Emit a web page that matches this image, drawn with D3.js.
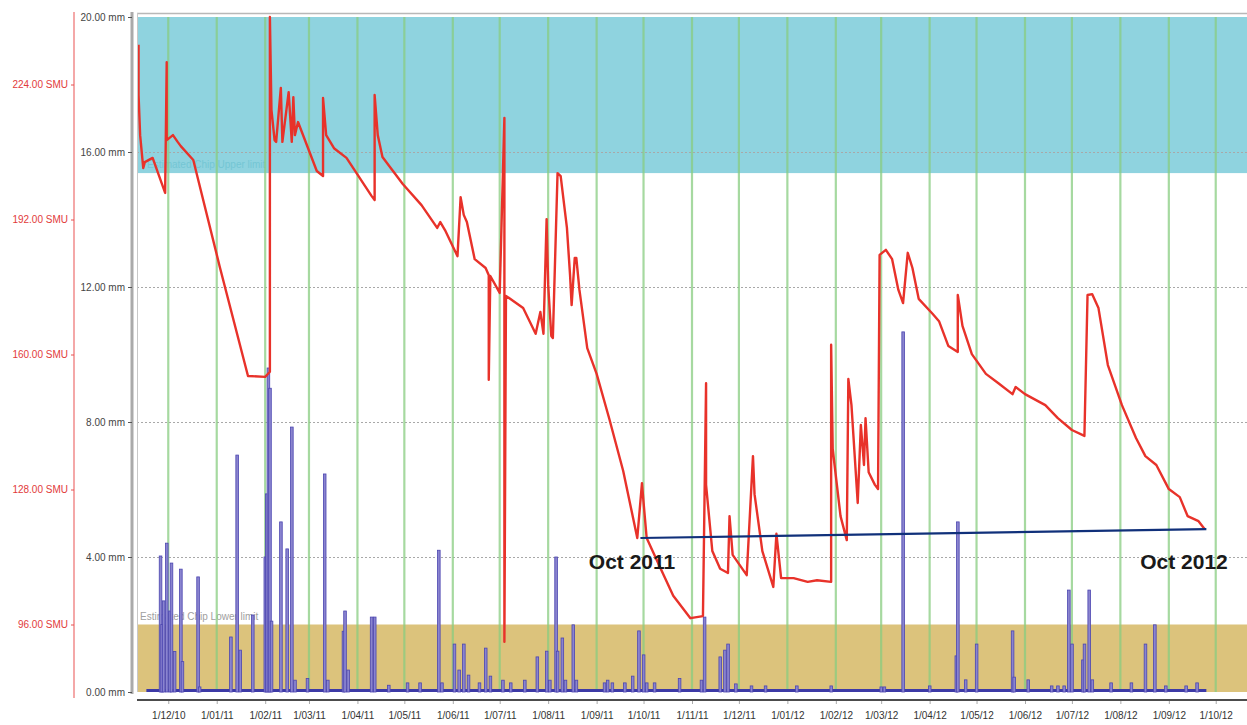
<!DOCTYPE html>
<html><head><meta charset="utf-8">
<script src="https://cdn.jsdelivr.net/npm/d3@7/dist/d3.min.js"></script>
<style>body{margin:0;background:#fff}svg{display:block}text{font-family:"Liberation Sans",Arial,sans-serif}</style>
</head><body><svg id="c" width="1247" height="725"></svg>
<script>
// ---- data ----
const mmTicks = [0, 4, 8, 12, 16, 20];
const smuTicks = [96, 128, 160, 192, 224];
const monthTicks = ["2010-12-01","2011-01-01","2011-02-01","2011-03-01","2011-04-01","2011-05-01","2011-06-01","2011-07-01","2011-08-01","2011-09-01","2011-10-01","2011-11-01","2011-12-01","2012-01-01","2012-02-01","2012-03-01","2012-04-01","2012-05-01","2012-06-01","2012-07-01","2012-08-01","2012-09-01","2012-10-01"];
const upperLimitSMU = 203;   // Estimated Chip Upper limit
const lowerLimitSMU = 96;    // Estimated Chip Lower limit
const smuDates = ["2010-11-12","2010-11-12","2010-11-13","2010-11-15","2010-11-16","2010-11-21","2010-11-29","2010-11-30","2010-11-30","2010-12-04","2010-12-07","2010-12-09","2010-12-17","2011-01-03","2011-01-21","2011-02-01","2011-02-04","2011-02-04","2011-02-05","2011-02-07","2011-02-08","2011-02-11","2011-02-12","2011-02-16","2011-02-18","2011-02-19","2011-02-20","2011-02-22","2011-03-06","2011-03-10","2011-03-10","2011-03-12","2011-03-17","2011-03-25","2011-04-10","2011-04-12","2011-04-12","2011-04-14","2011-04-17","2011-04-30","2011-05-12","2011-05-22","2011-05-24","2011-05-27","2011-06-04","2011-06-06","2011-06-08","2011-06-10","2011-06-15","2011-06-22","2011-06-24","2011-06-24","2011-06-25","2011-07-01","2011-07-04","2011-07-04","2011-07-05","2011-07-16","2011-07-24","2011-07-27","2011-07-29","2011-07-31","2011-08-01","2011-08-03","2011-08-04","2011-08-07","2011-08-09","2011-08-13","2011-08-15","2011-08-16","2011-08-18","2011-08-19","2011-08-21","2011-08-26","2011-09-01","2011-09-09","2011-09-18","2011-09-27","2011-09-30","2011-10-01","2011-10-03","2011-10-12","2011-10-20","2011-10-31","2011-11-08","2011-11-10","2011-11-10","2011-11-14","2011-11-19","2011-11-24","2011-11-25","2011-11-27","2011-12-06","2011-12-10","2011-12-11","2011-12-16","2011-12-23","2011-12-25","2011-12-28","2012-01-05","2012-01-14","2012-01-20","2012-01-29","2012-01-29","2012-01-30","2012-02-04","2012-02-08","2012-02-09","2012-02-11","2012-02-15","2012-02-17","2012-02-19","2012-02-20","2012-02-22","2012-02-26","2012-02-28","2012-02-29","2012-03-04","2012-03-08","2012-03-12","2012-03-15","2012-03-18","2012-03-21","2012-03-25","2012-04-03","2012-04-07","2012-04-13","2012-04-19","2012-04-19","2012-04-22","2012-04-28","2012-05-07","2012-05-15","2012-05-24","2012-05-26","2012-06-01","2012-06-14","2012-06-22","2012-07-01","2012-07-09","2012-07-11","2012-07-14","2012-07-18","2012-07-24","2012-08-02","2012-08-11","2012-08-17","2012-08-24","2012-09-01","2012-09-08","2012-09-13","2012-09-20","2012-09-24"];
const smuValues = [233.4,221.5,212.0,204.2,205.6,206.6,198.3,229.3,210.8,212.0,210.4,209.4,206.1,180.7,154.9,154.7,155.9,240,218.0,210.8,210.4,223.2,210.4,222.2,210.4,221.0,212.0,215.1,203.5,202.3,220.8,212.0,208.9,206.6,197.6,196.6,221.5,212.0,206.8,200.4,195.4,190.0,191.4,189.5,183.3,197.3,193.1,191.4,182.6,180.5,178.8,154.0,178.6,174.6,216.1,91.9,173.9,171.0,164.9,170.1,164.9,192.1,176.5,164.4,163.9,203.0,202.3,190.0,178.8,171.7,182.9,182.9,175.3,161.5,155.4,144.9,132.4,116.5,129.5,125.0,116.5,109.2,102.8,97.5,98.0,153.2,129.1,113.4,109.2,108.2,121.7,112.5,107.7,135.9,126.9,113.4,104.9,117.5,107.0,107.0,106.1,106.5,106.1,162.3,137.6,121.7,116.0,154.2,148.0,124.8,143.3,133.8,144.9,132.1,129.1,128.1,183.6,184.8,182.6,175.3,172.2,184.1,180.5,173.2,169.6,167.9,162.0,160.6,174.1,166.8,160.1,155.4,153.2,150.6,152.3,150.6,148.0,144.9,142.1,140.7,174.1,174.3,171.0,157.5,148.0,140.2,135.9,133.8,128.1,126.2,121.7,120.5,118.6];
const rainDates = ["2010-11-26","2010-11-27","2010-11-28","2010-11-30","2010-12-02","2010-12-03","2010-12-05","2010-12-09","2010-12-10","2010-12-20","2010-12-21","2011-01-10","2011-01-14","2011-01-16","2011-01-24","2011-02-01","2011-02-02","2011-02-03","2011-02-04","2011-02-05","2011-02-11","2011-02-15","2011-02-18","2011-02-20","2011-02-28","2011-03-11","2011-03-13","2011-03-23","2011-03-24","2011-03-26","2011-04-10","2011-04-12","2011-04-21","2011-05-03","2011-05-11","2011-05-23","2011-05-25","2011-06-02","2011-06-05","2011-06-08","2011-06-11","2011-06-18","2011-06-22","2011-06-25","2011-07-03","2011-07-08","2011-07-17","2011-07-25","2011-07-31","2011-08-02","2011-08-06","2011-08-07","2011-08-10","2011-08-12","2011-08-17","2011-08-19","2011-09-06","2011-09-08","2011-09-11","2011-09-19","2011-09-24","2011-09-28","2011-10-01","2011-10-03","2011-10-08","2011-10-24","2011-11-07","2011-11-09","2011-11-19","2011-11-22","2011-11-24","2011-11-29","2011-12-09","2011-12-18","2012-01-07","2012-01-29","2012-03-01","2012-03-03","2012-03-15","2012-04-01","2012-04-18","2012-04-19","2012-04-24","2012-05-01","2012-05-24","2012-05-25","2012-06-03","2012-06-18","2012-06-22","2012-06-26","2012-06-29","2012-07-01","2012-07-08","2012-07-09","2012-07-12","2012-07-14","2012-07-26","2012-08-08","2012-08-17","2012-08-23","2012-08-30","2012-09-12","2012-09-19"];
const rainValues = [4.03,2.0,2.7,4.41,2.4,3.82,1.2,3.64,0.9,3.41,0.15,1.63,7.02,1.24,2.28,4.0,5.87,9.6,9.0,2.1,5.04,4.24,7.85,0.35,0.4,6.46,0.35,1.8,2.4,0.65,2.22,2.22,0.2,0.27,0.27,4.2,0.27,1.42,0.65,1.42,0.5,0.27,1.3,0.47,0.35,0.27,0.35,1.04,1.21,0.35,4.0,1.21,1.6,0.35,1.99,0.35,0.27,0.35,0.27,0.27,0.47,1.81,1.1,0.27,0.27,0.4,0.35,2.22,1.04,1.24,1.42,0.24,0.18,0.18,0.18,0.18,0.15,0.15,10.67,0.18,1.07,5.04,0.36,1.42,1.81,0.44,0.36,0.18,0.18,0.18,3.02,1.42,0.95,1.42,3.02,0.36,0.27,0.27,1.42,1.99,0.18,0.18,0.27];
const rainPeriod = ["2010-11-17", "2012-09-25"];
const annotationDates = ["2011-09-29", "2012-09-25"];
const annotationValues = [116.5, 118.6];
const annotationLabels = ["Oct 2011", "Oct 2012"];

// ---- chart ----
const P = d3.timeParse("%Y-%m-%d");
const svg = d3.select("#c");
const L = 137, R = 1247, T = 17, B = 692;
const x = d3.scaleTime().domain([P("2010-11-11"), P("2012-10-21")]).range([L, R]);
const yMM = d3.scaleLinear().domain([0, 20]).range([B, T]);
const ySMU = d3.scaleLinear().domain([80, 240]).range([B, T]);

svg.append("defs").append("clipPath").attr("id","clip").append("rect")
  .attr("x", L).attr("y", 10).attr("width", R - L).attr("height", B - 10 + 1);

// top border
svg.append("line").attr("x1", L).attr("x2", R).attr("y1", 13.5).attr("y2", 13.5).attr("stroke", "#b8b8b8").attr("stroke-width", 1.5);

// bands
svg.append("rect").attr("x", L).attr("width", R - L).attr("y", ySMU(240)).attr("height", ySMU(upperLimitSMU) - ySMU(240)).attr("fill", "#8fd3df");
svg.append("rect").attr("x", L).attr("width", R - L).attr("y", ySMU(lowerLimitSMU)).attr("height", ySMU(80) - ySMU(lowerLimitSMU)).attr("fill", "#dcc37c");
svg.append("text").attr("x", 147).attr("y", ySMU(upperLimitSMU) - 5).attr("font-size", 10).attr("fill", "#74c6d4").text("Estimated Chip Upper limit");
svg.append("text").attr("x", 140).attr("y", ySMU(lowerLimitSMU) - 5).attr("font-size", 10).attr("fill", "#a0a0a0").text("Estimated Chip Lower limit");

// horizontal dotted grid
svg.append("g").selectAll("line").data(mmTicks.filter(d => d > 0 && d < 20)).join("line")
  .attr("x1", L).attr("x2", R).attr("y1", d => yMM(d) + 0.5).attr("y2", d => yMM(d) + 0.5)
  .attr("stroke", "#a8a8a8").attr("stroke-dasharray", "2,2");

// green month lines
const months = monthTicks.map(P);
svg.append("g").selectAll("line").data(months).join("line")
  .attr("x1", d => x(d)).attr("x2", d => x(d)).attr("y1", T).attr("y2", B)
  .attr("stroke", "#88cc80").attr("stroke-opacity", 0.75).attr("stroke-width", 2.2);

// rain bars
const plot = svg.append("g").attr("clip-path", "url(#clip)");
plot.append("line").attr("x1", x(P(rainPeriod[0]))).attr("x2", x(P(rainPeriod[1])))
  .attr("y1", yMM(0) - 1.5).attr("y2", yMM(0) - 1.5).attr("stroke", "#3d3aa6").attr("stroke-width", 3);
plot.append("g").selectAll("rect").data(rainDates.map((d, i) => ({d: P(d), v: rainValues[i]}))).join("rect")
  .attr("x", d => x(d.d) - 1.2).attr("width", 2.6)
  .attr("y", d => yMM(d.v)).attr("height", d => yMM(0) - yMM(d.v))
  .attr("fill", "#8a84cf").attr("stroke", "#4b45b0").attr("stroke-width", 0.8);

// SMU line
const line = d3.line().x(d => x(d.d)).y(d => ySMU(d.v));
plot.append("path").datum(smuDates.map((d, i) => ({d: P(d), v: smuValues[i]})))
  .attr("d", line).attr("fill", "none").attr("stroke", "#e8322a").attr("stroke-width", 2.4).attr("stroke-linejoin", "round");

// annotation
svg.append("line")
  .attr("x1", x(P(annotationDates[0]))).attr("y1", ySMU(annotationValues[0]))
  .attr("x2", x(P(annotationDates[1]))).attr("y2", ySMU(annotationValues[1]))
  .attr("stroke", "#10307a").attr("stroke-width", 2.2);
svg.append("g").selectAll("text").data(annotationLabels).join("text")
  .attr("x", (d, i) => i === 0 ? 632 : 1184).attr("y", 569).attr("text-anchor", "middle")
  .attr("font-size", 21).attr("font-weight", "bold").attr("fill", "#1a1a1a").text(d => d);

// left border of plot
svg.append("line").attr("x1", L + 0.5).attr("x2", L + 0.5).attr("y1", 13).attr("y2", B).attr("stroke", "#c8c8c8");

// mm axis
const mmAxis = svg.append("g").attr("transform", "translate(132,0)");
mmAxis.append("line").attr("x1", 0).attr("x2", 0).attr("y1", 12).attr("y2", B + 2).attr("stroke", "#aaaaaa").attr("stroke-width", 3);
mmAxis.append("g").call(d3.axisLeft(yMM).tickValues(mmTicks).tickSize(4).tickFormat(d => d3.format(".2f")(d) + " mm"))
  .call(g => g.select(".domain").remove())
  .call(g => g.selectAll("line").attr("stroke", "#555"))
  .call(g => g.selectAll("text").attr("font-size", 10).attr("fill", "#444").attr("x", -7).attr("font-family", "Liberation Sans, Arial"));

// SMU axis
const smuAxis = svg.append("g").attr("transform", "translate(74,0)");
smuAxis.append("line").attr("x1", 0).attr("x2", 0).attr("y1", 12).attr("y2", 698).attr("stroke", "#f4a8a8").attr("stroke-width", 2);
smuAxis.append("g").call(d3.axisLeft(ySMU).tickValues(smuTicks).tickSize(3).tickFormat(d => d3.format(".2f")(d) + " SMU"))
  .call(g => g.select(".domain").remove())
  .call(g => g.selectAll("line").attr("stroke", "#e85050"))
  .call(g => g.selectAll("text").attr("font-size", 10).attr("fill", "#e23a3a").attr("x", -6).attr("font-family", "Liberation Sans, Arial"));

// x axis
svg.append("line").attr("x1", L).attr("x2", R).attr("y1", 700).attr("y2", 700).attr("stroke", "#111").attr("stroke-width", 1.5);
svg.append("g").attr("transform", "translate(0,701)")
  .call(d3.axisBottom(x).tickValues(months).tickSize(3).tickFormat(d3.timeFormat("%-d/%m/%y")))
  .call(g => g.select(".domain").remove())
  .call(g => g.selectAll("line").attr("stroke", "#aaa"))
  .call(g => g.selectAll("text").attr("font-size", 10).attr("fill", "#333").attr("dy", "1.2em").attr("font-family", "Liberation Sans, Arial"));
</script></body></html>
